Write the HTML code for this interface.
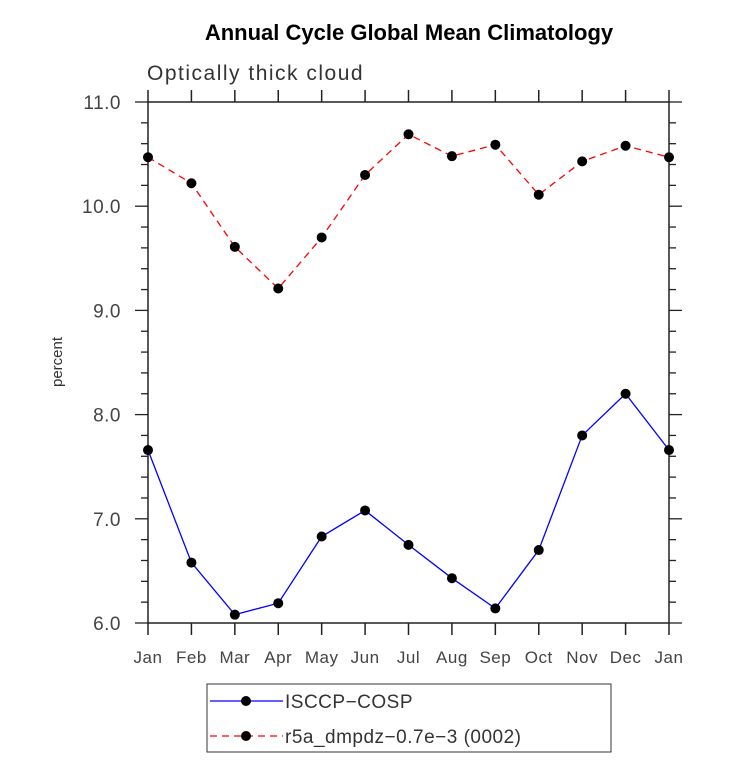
<!DOCTYPE html>
<html><head><meta charset="utf-8"><style>
body{margin:0;background:#fff}
svg{display:block}
text{font-family:"Liberation Sans",sans-serif}
</style></head><body>
<svg id="chart" width="733" height="774">
<text x="409" y="40" text-anchor="middle" font-size="22" font-weight="bold">Annual Cycle Global Mean Climatology</text>
<text x="147" y="80" font-size="21" fill="#333" letter-spacing="1.5">Optically thick cloud</text>
<text transform="translate(62,362) rotate(-90)" text-anchor="middle" font-size="15" fill="#333">percent</text>
<g id="axes"></g>
<g id="series"></g>
<g>
<rect x="207" y="684" width="404" height="68" fill="none" stroke="#333" stroke-width="1"/>
<line x1="210" y1="701" x2="283" y2="701" stroke="#0000ff" stroke-width="1.3"/>
<circle cx="246" cy="701" r="5" fill="#000"/>
<text x="285" y="708" font-size="19" fill="#333" letter-spacing="0.5">ISCCP−COSP</text>
<line x1="210" y1="736" x2="283" y2="736" stroke="#ff0000" stroke-width="1.3" stroke-dasharray="7,5"/>
<circle cx="246" cy="736" r="5" fill="#000"/>
<text x="285" y="743" font-size="19" fill="#333" letter-spacing="0.5">r5a_dmpdz−0.7e−3 (0002)</text>
</g>
</svg>
<script>
const months=["Jan","Feb","Mar","Apr","May","Jun","Jul","Aug","Sep","Oct","Nov","Dec","Jan"];
const isccp=[7.66,6.58,6.08,6.19,6.83,7.08,6.75,6.43,6.14,6.70,7.80,8.20,7.66];
const r5a=[10.47,10.22,9.61,9.21,9.70,10.30,10.69,10.48,10.59,10.11,10.43,10.58,10.47];
const yTicks=["6.0","7.0","8.0","9.0","10.0","11.0"];
const X0=148,X1=669,Y0=623,Y1=102,ymin=6,ymax=11;
const xs=i=>X0+(X1-X0)*i/(months.length-1);
const ys=v=>Y0-(Y0-Y1)*(v-ymin)/(ymax-ymin);
const NS="http://www.w3.org/2000/svg";
function mk(t,a,p){const e=document.createElementNS(NS,t);for(const k in a)e.setAttribute(k,a[k]);p.appendChild(e);return e;}
const ax=document.getElementById('axes');
const fr=mk('rect',{x:X0,y:Y1,width:X1-X0,height:Y0-Y1,fill:'none',stroke:'#222','stroke-width':1.5},ax);


months.forEach((m,i)=>{
 const x=xs(i);
 mk('line',{x1:x,y1:Y0,x2:x,y2:Y0+12,stroke:'#222','stroke-width':1.5},ax);
 mk('line',{x1:x,y1:Y1,x2:x,y2:Y1-12,stroke:'#222','stroke-width':1.5},ax);
 const t=mk('text',{x:x,y:Y0+40,'text-anchor':'middle','font-size':17,fill:'#444','letter-spacing':0.5},ax);
 t.textContent=m;
 
 
});
for(let v=ymin;v<=ymax+1e-9;v+=0.2){
 const y=ys(v);const major=Math.abs(v-Math.round(v))<1e-6;const L=major?13:7;
 mk('line',{x1:X0-L,y1:y,x2:X0,y2:y,stroke:'#222','stroke-width':1.3},ax);
 mk('line',{x1:X1,y1:y,x2:X1+L,y2:y,stroke:'#222','stroke-width':1.3},ax);
}
yTicks.forEach(s=>{
 const t=mk('text',{x:X0-27,y:ys(parseFloat(s))+7,'text-anchor':'end','font-size':19,fill:'#444','letter-spacing':0.5},ax);
 t.textContent=s;
 
 
});
const sg=document.getElementById('series');
function draw(vals,color,dash,name){
 const g=mk('g',{},sg);
 
 
 const a={points:vals.map((v,i)=>xs(i)+','+ys(v)).join(' '),fill:'none',stroke:color,'stroke-width':1.3};
 if(dash)a['stroke-dasharray']=dash;
 mk('polyline',a,g);
 vals.forEach((v,i)=>{
  const c=mk('circle',{cx:xs(i),cy:ys(v),r:5,fill:'#000'},g);
  
  
 });
}
draw(isccp,'#0000ff',null,'series-isccp-cosp');
draw(r5a,'#ff0000','7,5','series-r5a');
</script>
</body></html>
